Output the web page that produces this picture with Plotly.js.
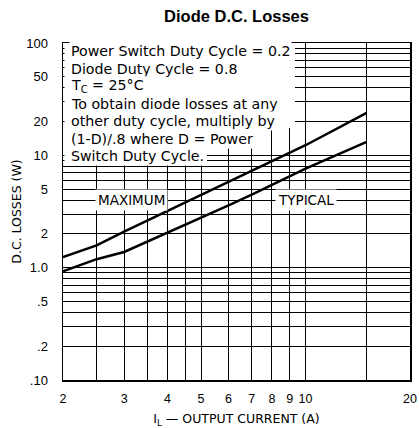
<!DOCTYPE html>
<html>
<head>
<meta charset="utf-8">
<script src="https://cdn.plot.ly/plotly-3.0.1.min.js"></script>
<style>html,body{margin:0;padding:0;background:#fff;}</style>
</head>
<body>
<div id="chart" style="width:419px;height:428px;"></div>
<script>
// Data
const outputCurrent = [2, 2.5, 3, 4, 5, 6, 7, 8, 9, 10, 15];
const maximumLosses = [1.24, 1.58, 2.09, 3.2, 4.42, 5.74, 7.28, 8.93, 10.6, 12.3, 23.9];
const typicalLosses = [0.93, 1.19, 1.38, 2.05, 2.76, 3.58, 4.47, 5.43, 6.44, 7.6, 13.2];

// Axis grid / tick labels
const xTickVals = [2, 2.5, 3, 3.5, 4, 4.5, 5, 6, 7, 8, 9, 10, 15, 20];
const xTickText = ['2', '', '3', '', '4', '', '5', '6', '7', '8', '9', '10', '', '20'];
const yTickVals = [0.1, 0.2, 0.3, 0.4, 0.5, 0.6, 0.7, 0.8, 0.9, 1, 2, 3, 4, 5, 6, 7, 8, 9, 10, 20, 30, 40, 50, 60, 70, 80, 90, 100];
const yTickText = ['.10', '.2', '', '', '.5', '', '', '', '', '1.0', '2', '', '', '5', '', '', '', '', '10', '20', '', '', '50', '', '', '', '', '100'];

const noteLines = [
  'Power Switch Duty Cycle = 0.2',
  'Diode Duty Cycle = 0.8',
  'T<sub>C</sub> = 25°C',
  'To obtain diode losses at any',
  'other duty cycle, multiply by',
  '(1-D)/.8 where D = Power',
  'Switch Duty Cycle.'
];

const FONT = 'Liberation Sans, Arial, Helvetica, sans-serif';
const WIDE = 'DejaVu Sans, Liberation Sans, sans-serif';

const W = 419, H = 428, ML = 63, MR = 9, MT = 43, MB = 48;
const PW = W - ML - MR, PH = H - MT - MB;
const px = v => (v - ML) / PW;
const py = v => 1 - (v - MT) / PH;

const traces = [
  {x: outputCurrent, y: maximumLosses, mode: 'lines', name: 'MAXIMUM',
   line: {color: '#000', width: 2.5}, hoverinfo: 'skip'},
  {x: outputCurrent, y: typicalLosses, mode: 'lines', name: 'TYPICAL',
   line: {color: '#000', width: 2.5}, hoverinfo: 'skip'}
];

const noteAnnotations = noteLines.map((t, i) => ({
  xref: 'paper', yref: 'paper',
  x: px(69), y: py(51 + 17.5 * i),
  xanchor: 'left', yanchor: 'middle', align: 'left',
  showarrow: false, bgcolor: '#fff', borderpad: 1,
  text: t, font: {family: WIDE, size: 14.2, color: '#000'}
}));

// white panel behind the note block (the curves do not pass through it)
const panel = [[64.5, 295, 43.8, 128], [64.5, 256, 128, 147], [64.5, 207, 147, 164]].map(r => ({
  type: 'rect', xref: 'paper', yref: 'paper', layer: 'above',
  x0: px(r[0]), x1: px(r[1]), y0: py(r[3]), y1: py(r[2]),
  fillcolor: '#fff', line: {width: 0}
}));

const layout = {
  width: W, height: H,
  margin: {l: ML, r: MR, t: MT, b: MB},
  paper_bgcolor: '#fff', plot_bgcolor: '#fff',
  showlegend: false,
  font: {family: FONT, color: '#000'},
  title: {text: '<b>Diode D.C. Losses</b>', font: {family: FONT, size: 16.5, color: '#000'},
          x: 0.5, xref: 'paper', xanchor: 'center', y: 1 - 16/428, yanchor: 'middle'},
  xaxis: {
    type: 'log', range: [Math.log10(2), Math.log10(20)],
    tickmode: 'array', tickvals: xTickVals, ticktext: xTickText,
    showgrid: true, gridcolor: '#000', gridwidth: 1,
    showline: true, linecolor: '#000', linewidth: 1.5, mirror: true,
    ticks: '', zeroline: false, ticklabelstandoff: 6,
    tickfont: {family: FONT, size: 12.5, color: '#000'},
    title: {text: 'I<sub>L</sub> — OUTPUT CURRENT (A)', font: {family: WIDE, size: 12.5, color: '#000'}, standoff: 17}
  },
  yaxis: {
    type: 'log', range: [-1, 2],
    tickmode: 'array', tickvals: yTickVals, ticktext: yTickText,
    showgrid: true, gridcolor: '#000', gridwidth: 1,
    showline: true, linecolor: '#000', linewidth: 1.5, mirror: true,
    ticks: '', zeroline: false, ticklabelstandoff: 11,
    tickfont: {family: FONT, size: 13, color: '#000'},
    title: {text: 'D.C. LOSSES (W)', font: {family: WIDE, size: 12.5, color: '#000'}, standoff: 2}
  },
  shapes: panel,
  annotations: noteAnnotations.concat([
    {xref: 'x', yref: 'y', x: Math.log10(3.15), y: Math.log10(4), showarrow: false,
     bgcolor: '#fff', borderpad: 2, text: 'MAXIMUM', font: {family: WIDE, size: 13.5, color: '#000'}},
    {xref: 'x', yref: 'y', x: Math.log10(10.0), y: Math.log10(4), showarrow: false,
     bgcolor: '#fff', borderpad: 2, text: 'TYPICAL', font: {family: WIDE, size: 13.5, color: '#000'}}
  ])
};

Plotly.newPlot('chart', traces, layout, {displayModeBar: false, staticPlot: true});
</script>
</body>
</html>
